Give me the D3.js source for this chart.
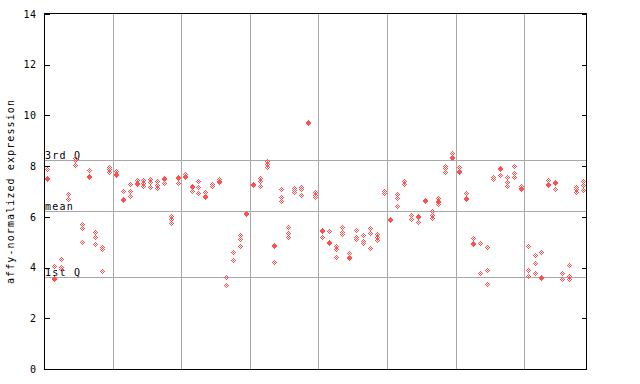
<!DOCTYPE html>
<html>
<head>
<meta charset="utf-8">
<script src="https://cdn.jsdelivr.net/npm/d3@7"></script>
<style>
  html, body { margin: 0; padding: 0; background: #fff; }
  svg { display: block; }
  text { font-family: "DejaVu Sans Mono", monospace; fill: #000; }
</style>
</head>
<body>
<div id="chart"></div>
<script>
// ---- data ----
const yTicks = [0, 2, 4, 6, 8, 10, 12, 14];
const quartileNames = ["3rd Q", "mean", "1st Q"];
const quartileValues = [8.23, 6.22, 3.62];
const groupSizes = [10, 10, 10, 10, 10, 10, 10, 9];
const yLabel = "affy-normalized expression";
// expression values per sample (replicates)
const samples = [
  [7.9, 7.52, 7.48], [4.08, 3.6, 3.56], [4.35, 4.03, 3.95], [6.9, 6.7], [8.33, 8.25, 8.05],
  [5.73, 5.55, 5.0], [7.83, 7.63, 7.59], [5.39, 5.22, 4.93], [4.8, 4.72, 3.86], [7.95, 7.87, 7.76],
  [7.81, 7.68, 7.64], [7.02, 6.7, 6.66], [7.3, 7.02, 6.82], [7.45, 7.33, 7.29], [7.45, 7.32, 7.23],
  [7.49, 7.39, 7.16], [7.41, 7.26, 7.13], [7.55, 7.51, 7.35], [6.05, 5.92, 5.77], [7.56, 7.52, 7.35],
  [7.68, 7.6, 7.56], [7.2, 7.16, 7.02], [7.43, 7.16, 6.93], [6.97, 6.81, 6.77], [7.28, 7.22],
  [7.49, 7.41, 7.37], [3.62, 3.31], [4.6, 4.29], [5.28, 5.14, 4.86], [6.15, 6.11],
  [7.28, 7.24], [7.52, 7.43, 7.22], [8.2, 8.07, 7.95], [4.88, 4.84, 4.22], [7.1, 6.78, 6.63],
  [5.6, 5.35, 5.21], [7.15, 7.06, 6.97], [7.19, 7.1, 6.86], [9.75, 9.71], [6.97, 6.88, 6.78],
  [5.47, 5.43, 5.19], [5.43, 5.0, 4.96], [4.86, 4.75, 4.4], [5.6, 5.42, 5.32], [4.56, 4.4, 4.36],
  [5.47, 5.22, 5.13], [5.28, 5.05, 4.96], [5.55, 5.35, 4.76], [5.32, 5.22, 5.1], [7.03, 6.96],
  [5.92, 5.88], [6.89, 6.73, 6.43], [7.41, 7.3], [6.07, 5.9], [6.03, 5.99, 5.81],
  [6.67, 6.63], [6.22, 6.07, 5.97], [6.73, 6.64, 6.6, 6.49], [8.02, 7.94, 7.76], [8.51, 8.35, 8.31],
  [7.95, 7.8, 7.76], [6.93, 6.75, 6.71], [5.15, 4.98, 4.94], [4.98, 3.79], [4.8, 3.89, 3.34],
  [7.57, 7.5], [7.92, 7.88, 7.64], [7.57, 7.39, 7.2], [7.99, 7.72, 7.56], [7.2, 7.13, 7.09],
  [4.84, 3.89, 3.65], [4.48, 4.17, 3.77], [4.61, 3.62, 3.58], [7.44, 7.29, 7.25], [7.37, 7.33, 7.1],
  [3.77, 3.54], [4.09, 3.65, 3.55], [7.18, 7.09, 6.99], [7.41, 7.26, 7.05]
];

// ---- layout ----
const W = 640, H = 384;
const L = 44, R = 586, T = 14, B = 369;
const red = "#ff5050", grid = "#a8a8a8";

const svg = d3.select("#chart").append("svg")
  .attr("width", W).attr("height", H)
  .attr("shape-rendering", "crispEdges");

const x = d3.scaleBand().domain(d3.range(samples.length)).range([L, R]).padding(0);
const y = d3.scaleLinear().domain([0, 14]).range([B, T]);

// group boundaries
const bounds = [];
let acc = 0;
groupSizes.slice(0, -1).forEach(s => { acc += s; bounds.push(acc); });

const g = svg.append("g");
g.selectAll("line.vg").data(bounds).join("line")
  .attr("class", "vg")
  .attr("x1", d => Math.round(x(d)) + 0.5).attr("x2", d => Math.round(x(d)) + 0.5)
  .attr("y1", T).attr("y2", B)
  .attr("stroke", grid).attr("stroke-width", 1);

g.selectAll("line.hg").data(quartileValues).join("line")
  .attr("class", "hg")
  .attr("x1", L).attr("x2", R)
  .attr("y1", d => Math.round(y(d)) + 0.5).attr("y2", d => Math.round(y(d)) + 0.5)
  .attr("stroke", grid).attr("stroke-width", 1);

g.selectAll("text.ql").data(quartileNames).join("text")
  .attr("class", "ql")
  .attr("x", L + 1)
  .attr("y", (d, i) => Math.round(y(quartileValues[i])) - 1)
  .attr("font-size", 10).attr("letter-spacing", 1.2)
  .text(d => d);

// points: checkered diamonds
const offsets = [[0,-2],[-1,-1],[1,-1],[-2,0],[0,0],[2,0],[-1,1],[1,1],[0,2]];
const pts = [];
samples.forEach((vals, i) => vals.forEach(v => pts.push({ i, v })));
const pg = svg.append("g");
pg.selectAll("g.pt").data(pts).join("g")
  .attr("class", "pt")
  .attr("transform", d => `translate(${Math.round(x(d.i) + x.bandwidth() / 2)},${Math.round(y(d.v))})`)
  .selectAll("rect").data(offsets).join("rect")
  .attr("x", o => o[0]).attr("y", o => o[1])
  .attr("width", 1).attr("height", 1)
  .attr("fill", red);

// frame
svg.append("rect")
  .attr("x", L + 0.5).attr("y", T - 0.5)
  .attr("width", R - L).attr("height", B - T + 0.5)
  .attr("fill", "none").attr("stroke", "#000").attr("stroke-width", 1);

// left axis (ticks inward)
const ax = svg.append("g").attr("transform", `translate(${L + 0.5},0)`)
  .call(d3.axisLeft(y).tickValues(yTicks).tickSize(-5).tickSizeOuter(0).tickPadding(8));
ax.select(".domain").remove();
ax.selectAll("text").attr("font-size", 10).attr("font-family", "DejaVu Sans Mono").attr("letter-spacing", 0.5);
ax.selectAll("line").attr("stroke", "#000");

// right axis ticks
const ar = svg.append("g").attr("transform", `translate(${R + 0.5},0)`)
  .call(d3.axisRight(y).tickValues(yTicks).tickSize(-5).tickSizeOuter(0).tickFormat(""));
ar.select(".domain").remove();
ar.selectAll("line").attr("stroke", "#000");

// y title
svg.append("text")
  .attr("transform", `translate(14,${(T + B) / 2}) rotate(-90)`)
  .attr("text-anchor", "middle")
  .attr("font-size", 10).attr("letter-spacing", 1.1)
  .text(yLabel);
</script>
</body>
</html>
